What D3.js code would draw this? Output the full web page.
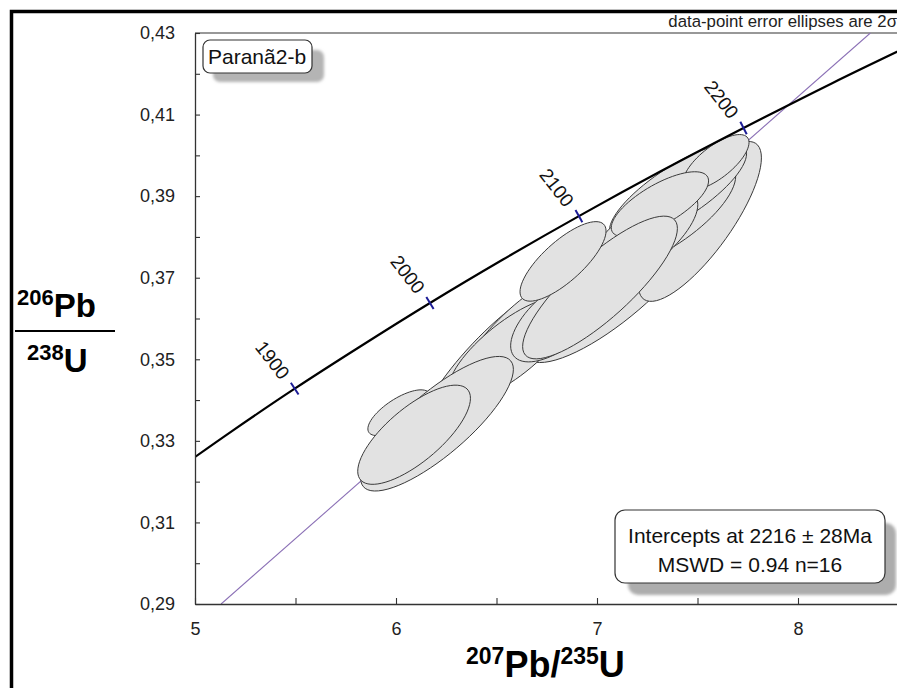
<!DOCTYPE html>
<html>
<head>
<meta charset="utf-8">
<script src="https://cdn.jsdelivr.net/npm/d3@7"></script>
<style>
body { margin: 0; background: #fff; }
svg { display: block; font-family: "Liberation Sans", Arial, sans-serif; }
</style>
</head>
<body>
<div id="chart"></div>
<script>
// concordia curve (age in Ma, 207Pb/235U, 206Pb/238U)
var concAges = [1800, 1850, 1900, 1950, 2000, 2050, 2100, 2150, 2200, 2250, 2300];
var concX = [4.887, 5.184, 5.496, 5.824, 6.169, 6.530, 6.910, 7.310, 7.729, 8.170, 8.633];
var concY = [0.3221, 0.3324, 0.3428, 0.3532, 0.3638, 0.3744, 0.3851, 0.3959, 0.4067, 0.4177, 0.4287];
var ageTicks = [1900, 2000, 2100, 2200];

// discordia (regression line) end points
var discX = [5.13, 8.36];
var discY = [0.29, 0.43];

// error ellipses: centre, half-widths and error correlation (in drawing order)
var ellX   = [7.090, 7.512, 7.353, 7.403, 7.214, 7.592, 7.313, 6.468, 6.642, 6.567, 6.816, 7.015, 6.831, 6.015, 6.204, 6.090];
var ellY   = [0.3691, 0.3838, 0.3855, 0.3910, 0.3794, 0.3983, 0.3880, 0.3499, 0.3573, 0.3524, 0.3602, 0.3676, 0.3740, 0.3369, 0.3342, 0.3315];
var ellSx  = [0.4580, 0.3060, 0.3371, 0.3411, 0.2875, 0.1643, 0.2421, 0.3400, 0.3100, 0.3080, 0.2456, 0.3850, 0.2140, 0.1549, 0.3800, 0.2804];
var ellSy  = [0.01990, 0.01960, 0.01278, 0.01197, 0.01189, 0.00680, 0.00798, 0.01760, 0.01420, 0.01280, 0.01084, 0.01750, 0.00975, 0.00561, 0.01650, 0.01216];
var ellRho = [0.815, 0.795, 0.733, 0.783, 0.714, 0.714, 0.719, 0.885, 0.820, 0.765, 0.637, 0.828, 0.765, 0.706, 0.808, 0.736];

// axis ticks
var xTickMarks = [5, 5.5, 6, 6.5, 7, 7.5, 8, 8.5];
var xTickLabels = [5, 6, 7, 8];
var yTickMarks = [0.29, 0.30, 0.31, 0.32, 0.33, 0.34, 0.35, 0.36, 0.37, 0.38, 0.39, 0.40, 0.41, 0.42, 0.43];
var yTickLabels = [0.29, 0.31, 0.33, 0.35, 0.37, 0.39, 0.41, 0.43];

var sampleName = "Paranã2-b";
var resultLines = ["Intercepts at 2216 ± 28Ma", "MSWD = 0.94 n=16"];
var caption = "data-point error ellipses are 2σ";

var W = 897, H = 688;
var plot = {left: 195, right: 898.5, top: 33, bottom: 604};

var x = d3.scaleLinear().domain([5, 8.5]).range([plot.left, plot.right]);
var y = d3.scaleLinear().domain([0.29, 0.43]).range([plot.bottom, plot.top]);

var svg = d3.select("#chart").append("svg")
    .attr("width", W)
    .attr("height", H);

var defs = svg.append("defs");
defs.append("clipPath").attr("id", "plotclip")
  .append("rect")
    .attr("x", plot.left).attr("y", plot.top)
    .attr("width", W - plot.left).attr("height", plot.bottom - plot.top);
defs.append("filter").attr("id", "soft")
    .attr("x", "-10%").attr("y", "-20%").attr("width", "120%").attr("height", "140%")
  .append("feGaussianBlur").attr("stdDeviation", 1.6);

// outer frame
svg.append("path")
    .attr("d", "M11.5," + H + "V11.5H" + W)
    .attr("fill", "none")
    .attr("stroke", "#000")
    .attr("stroke-width", 3.5);

// top border of plot area
svg.append("line")
    .attr("x1", plot.left).attr("x2", W)
    .attr("y1", plot.top).attr("y2", plot.top)
    .attr("stroke", "#333").attr("stroke-width", 1.2);

svg.append("text")
    .attr("x", 897).attr("y", 27)
    .attr("text-anchor", "end")
    .attr("font-size", 16.8)
    .attr("fill", "#222")
    .text(caption);

var inner = svg.append("g").attr("clip-path", "url(#plotclip)");

// discordia
inner.append("line")
    .attr("x1", x(discX[0])).attr("y1", y(discY[0]))
    .attr("x2", x(discX[1])).attr("y2", y(discY[1]))
    .attr("stroke", "#8a6fb5")
    .attr("stroke-width", 1.1);

// ellipses
var ellLine = d3.line()
    .x(function(d){ return x(d[0]); })
    .y(function(d){ return y(d[1]); })
    .curve(d3.curveCardinalClosed);

function ellipsePts(i){
  var pts = [], r = ellRho[i], k = Math.sqrt(1 - r * r);
  for (var j = 0; j < 72; j++){
    var t = j / 72 * 2 * Math.PI;
    pts.push([ellX[i] + ellSx[i] * Math.cos(t),
              ellY[i] + ellSy[i] * (r * Math.cos(t) + k * Math.sin(t))]);
  }
  return pts;
}

inner.selectAll("path.ell")
    .data(d3.range(ellX.length))
  .enter().append("path")
    .attr("class", "ell")
    .attr("d", function(i){ return ellLine(ellipsePts(i)); })
    .attr("fill", "#e2e2e2")
    .attr("stroke", "#3a3a3a")
    .attr("stroke-width", 1);

// concordia
var concLine = d3.line()
    .x(function(d){ return x(concX[d]); })
    .y(function(d){ return y(concY[d]); })
    .curve(d3.curveCatmullRom);

inner.append("path")
    .attr("d", concLine(d3.range(concAges.length)))
    .attr("fill", "none")
    .attr("stroke", "#000")
    .attr("stroke-width", 2.2);

// age marks
var labelAngle = 52;
ageTicks.forEach(function(a){
  var i = concAges.indexOf(a);
  var px = x(concX[i]), py = y(concY[i]);
  var ang = Math.atan2(y(concY[i + 1]) - y(concY[i - 1]), x(concX[i + 1]) - x(concX[i - 1]));
  var nx = -Math.sin(ang), ny = Math.cos(ang);
  inner.append("line")
      .attr("x1", px - 7 * nx).attr("y1", py - 7 * ny)
      .attr("x2", px + 7 * nx).attr("y2", py + 7 * ny)
      .attr("stroke", "#1c1c96")
      .attr("stroke-width", 2);
  var ra = labelAngle * Math.PI / 180;
  var lx = px - 15 * Math.cos(ra), ly = py - 15 * Math.sin(ra);
  inner.append("text")
      .attr("transform", "translate(" + lx + "," + ly + ") rotate(" + labelAngle + ")")
      .attr("text-anchor", "end")
      .attr("dominant-baseline", "central")
      .attr("font-size", 19)
      .attr("fill", "#111")
      .text(a);
});

// axes
var xAxis = d3.axisBottom(x)
    .tickValues(xTickMarks)
    .tickSizeInner(-6)
    .tickSizeOuter(0)
    .tickPadding(18)
    .tickFormat(function(d){ return xTickLabels.indexOf(d) >= 0 ? d : ""; });

var yAxis = d3.axisLeft(y)
    .tickValues(yTickMarks)
    .tickSizeInner(-5)
    .tickSizeOuter(0)
    .tickPadding(20)
    .tickFormat(function(d){
      return yTickLabels.indexOf(d) >= 0 ? d3.format(".2f")(d).replace(".", ",") : "";
    });

var gx = svg.append("g")
    .attr("transform", "translate(0," + plot.bottom + ")")
    .call(xAxis);
var gy = svg.append("g")
    .attr("transform", "translate(" + plot.left + ",0)")
    .call(yAxis);

[gx, gy].forEach(function(g){
  g.attr("font-family", null).attr("font-size", null);
  g.select(".domain").attr("stroke", "#333").attr("stroke-width", 1.3);
  g.selectAll(".tick line").attr("stroke", "#333").attr("stroke-width", 1.1);
  g.selectAll(".tick text").attr("font-size", 18).attr("fill", "#222");
});

// sample label box
svg.append("rect")
    .attr("x", 213).attr("y", 50).attr("width", 111).attr("height", 32).attr("rx", 7)
    .attr("fill", "#b4b4b4")
    .attr("filter", "url(#soft)");
svg.append("rect")
    .attr("x", 203).attr("y", 40).attr("width", 109).attr("height", 33).attr("rx", 7)
    .attr("fill", "#fff")
    .attr("stroke", "#333")
    .attr("stroke-width", 1.2);
svg.append("text")
    .attr("x", 208).attr("y", 64)
    .attr("font-size", 21)
    .attr("fill", "#111")
    .text(sampleName);

// result box
svg.append("rect")
    .attr("x", 628).attr("y", 523).attr("width", 268).attr("height", 72).attr("rx", 10)
    .attr("fill", "#adadad")
    .attr("filter", "url(#soft)");
svg.append("rect")
    .attr("x", 615).attr("y", 510).attr("width", 270).attr("height", 73).attr("rx", 10)
    .attr("fill", "#fff")
    .attr("stroke", "#333")
    .attr("stroke-width", 1.2);
svg.selectAll("text.res")
    .data(resultLines)
  .enter().append("text")
    .attr("class", "res")
    .attr("x", 750)
    .attr("y", function(d, i){ return 543 + i * 29; })
    .attr("text-anchor", "middle")
    .attr("font-size", 21)
    .attr("fill", "#111")
    .text(function(d){ return d; });

// axis titles
var yt1 = svg.append("text").attr("x", 17).attr("y", 317).attr("font-weight", "bold").attr("fill", "#000");
yt1.append("tspan").attr("font-size", 22).attr("dy", -12).text("206");
yt1.append("tspan").attr("font-size", 33).attr("dy", 12).text("Pb");
svg.append("line")
    .attr("x1", 15).attr("x2", 115)
    .attr("y1", 331).attr("y2", 331)
    .attr("stroke", "#000").attr("stroke-width", 2);
var yt2 = svg.append("text").attr("x", 27).attr("y", 372).attr("font-weight", "bold").attr("fill", "#000");
yt2.append("tspan").attr("font-size", 22).attr("dy", -12).text("238");
yt2.append("tspan").attr("font-size", 33).attr("dy", 12).text("U");

var xt = svg.append("text").attr("x", 466).attr("y", 677).attr("font-weight", "bold").attr("fill", "#000");
xt.append("tspan").attr("font-size", 23).attr("dy", -13).text("207");
xt.append("tspan").attr("font-size", 36).attr("dy", 13).text("Pb/");
xt.append("tspan").attr("font-size", 23).attr("dy", -13).text("235");
xt.append("tspan").attr("font-size", 36).attr("dy", 13).text("U");
</script>
</body>
</html>
